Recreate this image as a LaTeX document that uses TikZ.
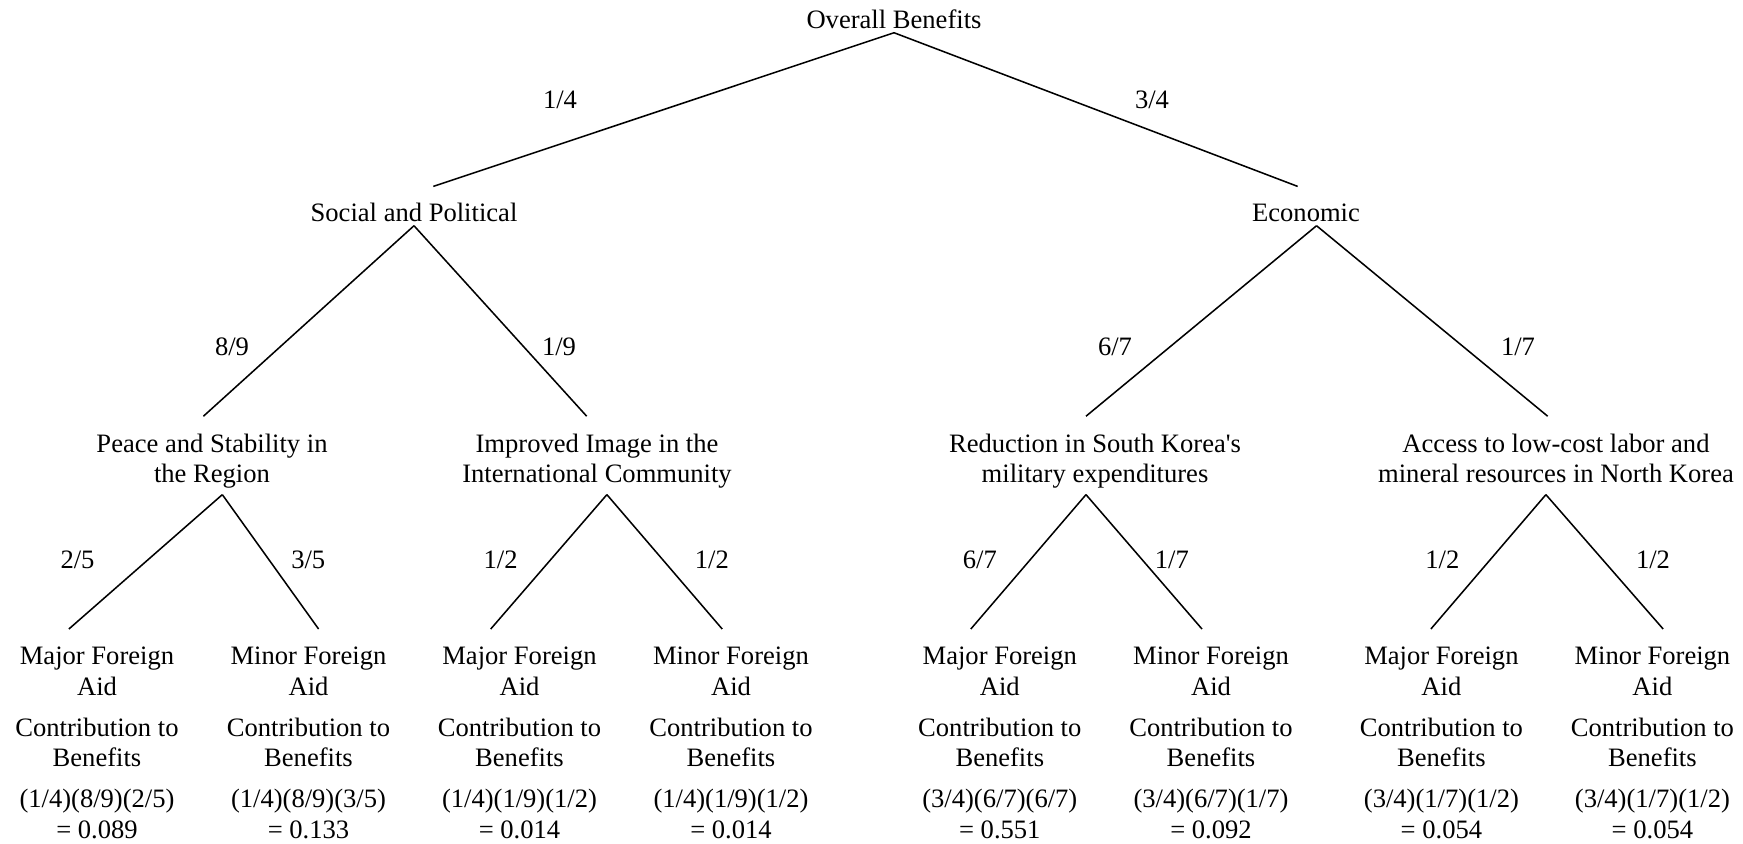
\documentclass[tikz,border=0pt]{standalone}
\usepackage{fontspec}
\setmainfont{Liberation Serif}
\usepackage{tikz}
\usetikzlibrary{positioning}
\tikzstyle{every node}=[font=\fontsize{12.1}{14.1}\selectfont, inner sep=0pt]
\tikzstyle{goal}=[anchor=base, text height=16pt, text depth=1.5pt]
\tikzstyle{crit}=[anchor=base, align=center,
                  text height=30.2pt,
                  text depth=5.1pt]
\tikzstyle{alt}=[anchor=base, align=center, text height=95.3pt]
\tikzstyle{weight}=[anchor=center]
\tikzstyle{branch}=[draw, line width=0.7pt]

\begin{document}
\begin{tikzpicture}[x=1.6cm,y=1.6cm]
      \useasboundingbox (0,0) rectangle (17.43,8.43);

      \node [goal] (top) at (8.94,8.14) {Overall Benefits};
      \node [goal] (soc) at (4.14,6.21) {Social and Political};
      \node [goal] (eco) at (13.06,6.21) {Economic};

      \node [crit] (peace) at (2.12,3.60) {Peace and Stability in\\the Region};
      \node [crit] (image) at (5.97,3.60) {Improved Image in the\\International Community};
      \node [crit] (mil) at (10.95,3.60) {Reduction in South Korea\textquotesingle s\\military expenditures};
      \node [crit] (res) at (15.56,3.60) {Access to low-cost labor and\\mineral resources in North Korea};

      % leaves: alternative, contribution, product
      \node [alt] (majA) at (0.97,0.042) {Major Foreign\\Aid\\[4.5pt]Contribution to\\Benefits\\[4.5pt](1/4)(8/9)(2/5)\\= 0.089};
      \node [alt] (minA) at (3.085,0.042) {Minor Foreign\\Aid\\[4.5pt]Contribution to\\Benefits\\[4.5pt](1/4)(8/9)(3/5)\\= 0.133};
      \node [alt] (majB) at (5.195,0.042) {Major Foreign\\Aid\\[4.5pt]Contribution to\\Benefits\\[4.5pt](1/4)(1/9)(1/2)\\= 0.014};
      \node [alt] (minB) at (7.31,0.042) {Minor Foreign\\Aid\\[4.5pt]Contribution to\\Benefits\\[4.5pt](1/4)(1/9)(1/2)\\= 0.014};
      \node [alt] (majC) at (9.998,0.042) {Major Foreign\\Aid\\[4.5pt]Contribution to\\Benefits\\[4.5pt](3/4)(6/7)(6/7)\\= 0.551};
      \node [alt] (minC) at (12.11,0.042) {Minor Foreign\\Aid\\[4.5pt]Contribution to\\Benefits\\[4.5pt](3/4)(6/7)(1/7)\\= 0.092};
      \node [alt] (majD) at (14.414,0.042) {Major Foreign\\Aid\\[4.5pt]Contribution to\\Benefits\\[4.5pt](3/4)(1/7)(1/2)\\= 0.054};
      \node [alt] (minD) at (16.524,0.042) {Minor Foreign\\Aid\\[4.5pt]Contribution to\\Benefits\\[4.5pt](3/4)(1/7)(1/2)\\= 0.054};

      % weights
      \node [weight] (w-soc) at (5.60,7.43) {1/4};
      \node [weight] (w-eco) at (11.52,7.43) {3/4};
      \node [weight] (w-peace) at (2.32,4.96) {8/9};
      \node [weight] (w-image) at (5.59,4.96) {1/9};
      \node [weight] (w-mil) at (11.15,4.96) {6/7};
      \node [weight] (w-res) at (15.18,4.96) {1/7};
      \node [weight] (w-majA) at (0.775,2.83) {2/5};
      \node [weight] (w-minA) at (3.083,2.83) {3/5};
      \node [weight] (w-majB) at (5.006,2.83) {1/2};
      \node [weight] (w-minB) at (7.118,2.83) {1/2};
      \node [weight] (w-majC) at (9.798,2.83) {6/7};
      \node [weight] (w-minC) at (11.718,2.83) {1/7};
      \node [weight] (w-majD) at (14.423,2.83) {1/2};
      \node [weight] (w-minD) at (16.53,2.83) {1/2};

      \path [branch] (top.south) edge ([xshift=8.8pt]soc.north) edge ([xshift=-3.8pt]eco.north);
      \path [branch] (soc.south) edge ([xshift=-3.9pt]peace.north) edge ([xshift=-4.7pt]image.north);
      \path [branch] ([xshift=4.8pt]eco.south) edge ([xshift=-4.1pt]mil.north) edge ([xshift=-3.8pt]res.north);
      \path [branch] ([xshift=4.7pt]peace.south) edge ([xshift=-12.8pt]majA.north) edge ([xshift=4.6pt]minA.north);
      \path [branch] ([xshift=4.5pt]image.south) edge ([xshift=-13.1pt]majB.north) edge ([xshift=-4pt]minB.north);
      \path [branch] ([xshift=-4.1pt]mil.south) edge ([xshift=-13.2pt]majC.north) edge ([xshift=-4.1pt]minC.north);
      \path [branch] ([xshift=-4.6pt]res.south) edge ([xshift=-4.8pt]majD.north) edge ([xshift=4.9pt]minD.north);
    \end{tikzpicture}
\end{document}
